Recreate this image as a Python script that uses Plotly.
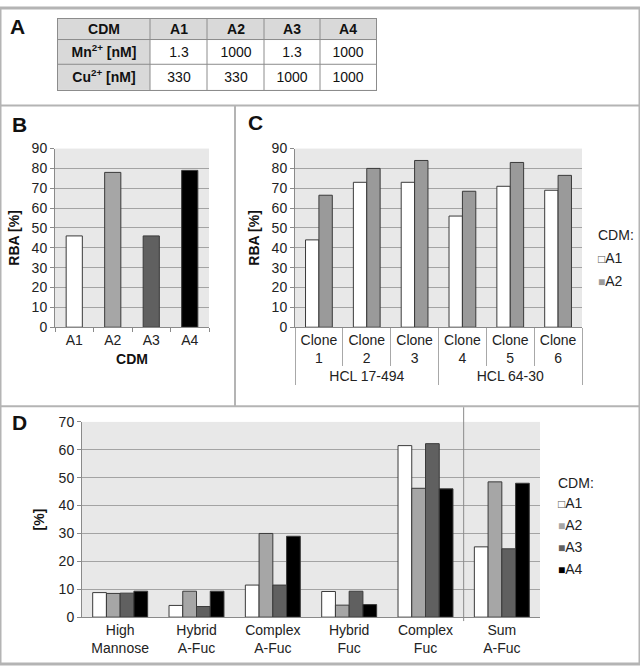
import plotly.graph_objects as go

# ---------------- data ----------------
table_header = ["<b>CDM</b>", "<b>A1</b>", "<b>A2</b>", "<b>A3</b>", "<b>A4</b>"]
table_row_mn = ["<b>Mn<sup>2+</sup> [nM]</b>", "1.3", "1000", "1.3", "1000"]
table_row_cu = ["<b>Cu<sup>2+</sup> [nM]</b>", "330", "330", "1000", "1000"]

cdm = ["A1", "A2", "A3", "A4"]
rba_b = [46, 78, 46, 79]

cell_lines = ["HCL 17-494"] * 3 + ["HCL 64-30"] * 3
clones = ["Clone<br>1", "Clone<br>2", "Clone<br>3", "Clone<br>4", "Clone<br>5", "Clone<br>6"]
rba_c_a1 = [44, 73, 73, 56, 71, 69]
rba_c_a2 = [66.5, 80, 84, 68.5, 83, 76.5]

glycans = ["High<br>Mannose", "Hybrid<br>A-Fuc", "Complex<br>A-Fuc", "Hybrid<br>Fuc",
           "Complex<br>Fuc", "Sum<br>A-Fuc"]
d_a1 = [8.8, 4.2, 11.5, 9.2, 61.5, 25.2]
d_a2 = [8.5, 9.3, 30.0, 4.3, 46.2, 48.5]
d_a3 = [8.6, 3.8, 11.5, 9.3, 62.2, 24.5]
d_a4 = [9.3, 9.3, 29.0, 4.5, 46.0, 48.0]

# ---------------- style ----------------
W, H = 640, 672
FONT = "Arial, Liberation Sans, sans-serif"
COL = {"A1": "#ffffff", "A2": "#a6a6a6", "A3": "#606060", "A4": "#000000"}
COL_C = {"A1": "#ffffff", "A2": "#9a9a9a"}
OUTLINE = "#3a3a3a"
BG = "#e8e8e8"
GRID = "#a3a3a3"
BORDER = "#b4b4b4"
TABLE_LINE = "#8c8c8c"


def px_x(p):
    return p / W


def px_y(p):
    return 1 - p / H


fig = go.Figure()

# ---- Panel A: table drawn as a categorical heat grid ----
col_edges = [0, 92, 149, 206, 262, 318]
row_edges = [0, 21, 46, 72]
table_text = [table_header, table_row_mn, table_row_cu]
table_fill = [[1, 1, 1, 1, 1], [1, 0, 0, 0, 0], [1, 0, 0, 0, 0]]
fig.add_trace(go.Heatmap(
    x=col_edges, y=row_edges, z=table_fill, text=table_text, texttemplate="%{text}",
    textfont=dict(family=FONT, size=14, color="#111"),
    colorscale=[[0, "#ffffff"], [1, "#d9d9d9"]], zmin=0, zmax=1, showscale=False,
    hoverinfo="skip", xaxis="x4", yaxis="y4",
))

# ---- Panel B ----
fig.add_trace(go.Bar(
    x=cdm, y=rba_b, width=0.42,
    marker=dict(color=[COL[c] for c in cdm], line=dict(color=OUTLINE, width=1)),
    showlegend=False, xaxis="x", yaxis="y", hoverinfo="skip",
))

# ---- Panel C ----
fig.add_trace(go.Bar(
    x=[cell_lines, clones], y=rba_c_a1, name="A1", width=0.28, offset=-0.28,
    marker=dict(color=COL_C["A1"], line=dict(color=OUTLINE, width=1)),
    xaxis="x2", yaxis="y2", showlegend=False,
))
fig.add_trace(go.Bar(
    x=[cell_lines, clones], y=rba_c_a2, name="A2", width=0.28, offset=0.0,
    marker=dict(color=COL_C["A2"], line=dict(color=OUTLINE, width=1)),
    xaxis="x2", yaxis="y2", showlegend=False,
))

# ---- Panel D ----
d_series = [("A1", d_a1), ("A2", d_a2), ("A3", d_a3), ("A4", d_a4)]
for i, (name, vals) in enumerate(d_series):
    fig.add_trace(go.Bar(
        x=glycans, y=vals, name=name, width=0.18, offset=-0.36 + 0.18 * i,
        marker=dict(color=COL[name], line=dict(color=OUTLINE, width=1)),
        xaxis="x3", yaxis="y3", showlegend=False,
    ))

TICK = 14
tickfont = dict(family=FONT, size=TICK, color="#222")
titlefont = dict(family=FONT, size=14, color="#111")

yB = [px_y(327), px_y(144)]
yD = [px_y(624), px_y(424)]

common_y = dict(showgrid=True, gridcolor=GRID, gridwidth=1, showline=True,
                linecolor="#8a8a8a", linewidth=1, ticks="outside", ticklen=4,
                tickcolor="#8a8a8a", tickfont=tickfont, zeroline=False)

fig.update_layout(
    width=W, height=H, margin=dict(l=0, r=0, t=0, b=0),
    paper_bgcolor="white", plot_bgcolor=BG,
    font=dict(family=FONT, color="#111"),
    barmode="overlay", showlegend=False,
    xaxis=dict(domain=[px_x(55), px_x(209)], anchor="y", showline=True, linecolor="#8a8a8a",
               ticks="outside", ticklen=4, tickcolor="#8a8a8a", tickson="boundaries",
               tickfont=tickfont, showgrid=False,
               title=dict(text="<b>CDM</b>", font=titlefont, standoff=7)),
    yaxis=dict(domain=yB, anchor="x", range=[0, 90], dtick=10,
               title=dict(text="<b>RBA [%]</b>", font=titlefont, standoff=8), **common_y),
    xaxis2=dict(domain=[px_x(295), px_x(582)], anchor="y2", type="multicategory",
                showline=True, linecolor="#8a8a8a", ticks="outside", ticklen=38,
                tickcolor="#a8a8a8", tickson="boundaries", showgrid=False,
                showdividers=True, dividercolor="#a8a8a8", dividerwidth=1,
                tickfont=tickfont),
    yaxis2=dict(domain=yB, anchor="x2", range=[0, 90], dtick=10,
                title=dict(text="<b>RBA [%]</b>", font=titlefont, standoff=8), **common_y),
    xaxis3=dict(domain=[px_x(82), px_x(540)], anchor="y3", showline=True, linecolor="#8a8a8a",
                ticks="", showgrid=False, tickfont=tickfont, range=[-0.5, 5.5]),
    yaxis3=dict(domain=yD, anchor="x3", range=[0, 70], dtick=10,
                title=dict(text="<b>[%]</b>", font=titlefont, standoff=10), **common_y),
    xaxis4=dict(domain=[px_x(58), px_x(376)], anchor="y4", range=[0, 318],
                showgrid=False, zeroline=False, showticklabels=False, ticks="",
                showline=True, mirror=True, linecolor=TABLE_LINE, linewidth=1),
    yaxis4=dict(domain=[px_y(84), px_y(11)], anchor="x4", range=[72, 0],
                showgrid=False, zeroline=False, showticklabels=False, ticks="",
                showline=True, mirror=True, linecolor=TABLE_LINE, linewidth=1),
)

# ---- borders / dividers ----
shapes = [
    dict(type="rect", xref="paper", yref="paper", x0=0, y0=0, x1=1, y1=1,
         line=dict(color=BORDER, width=3)),
    dict(type="line", xref="paper", yref="paper", x0=0, x1=1, y0=px_y(100), y1=px_y(100),
         line=dict(color=BORDER, width=2)),
    dict(type="line", xref="paper", yref="paper", x0=0, x1=1, y0=px_y(408), y1=px_y(408),
         line=dict(color=BORDER, width=2)),
    dict(type="line", xref="paper", yref="paper", x0=px_x(235), x1=px_x(235),
         y0=px_y(408), y1=px_y(100), line=dict(color=BORDER, width=2)),
    dict(type="line", xref="x3", yref="paper", x0=4.5, x1=4.5, y0=px_y(628), y1=px_y(409),
         line=dict(color="#8a8a8a", width=1)),
]
# table cell borders at the grid edges
for xe in col_edges[1:-1]:
    shapes.append(dict(type="line", xref="x4", yref="y4", x0=xe, x1=xe,
                       y0=row_edges[0], y1=row_edges[-1], layer="above",
                       line=dict(color=TABLE_LINE, width=1)))
for ye in row_edges[1:-1]:
    shapes.append(dict(type="line", xref="x4", yref="y4", x0=col_edges[0], x1=col_edges[-1],
                       y0=ye, y1=ye, layer="above", line=dict(color=TABLE_LINE, width=1)))
fig.update_layout(shapes=shapes)

letter_font = dict(family=FONT, size=21, color="#111")
annots = []
for txt, x, y in [("A", 8, 5), ("B", 10, 105), ("C", 246, 103), ("D", 10, 411)]:
    annots.append(dict(text="<b>" + txt + "</b>", xref="paper", yref="paper",
                       x=px_x(x), y=px_y(y), xanchor="left", yanchor="top",
                       showarrow=False, font=letter_font))


def legend_block(names, colors, x_px, title_y, ys):
    out = [dict(text="CDM:", xref="paper", yref="paper", x=px_x(x_px), y=px_y(title_y),
                xanchor="left", yanchor="middle", showarrow=False,
                font=dict(family=FONT, size=14, color="#222"))]
    for n, yy in zip(names, ys):
        c = colors[n]
        if c.lower() == "#ffffff":
            sw = '<span style="font-size:12px;color:#555">□</span>'
        else:
            sw = '<span style="font-size:12px;color:%s">■</span>' % c
        out.append(dict(text=sw + n, xref="paper", yref="paper", x=px_x(x_px),
                        y=px_y(yy), xanchor="left", yanchor="middle", showarrow=False,
                        font=dict(family=FONT, size=14, color="#222")))
    return out


annots += legend_block(["A1", "A2"], COL_C, 596, 233, [256, 280])
annots += legend_block(["A1", "A2", "A3", "A4"], COL, 556, 487, [507, 530, 552, 575])
fig.update_layout(annotations=annots)

fig.write_html("out.html", config={"displayModeBar": False},
               post_script="document.body.style.margin='0';"
                           "document.body.style.overflow='hidden';")
